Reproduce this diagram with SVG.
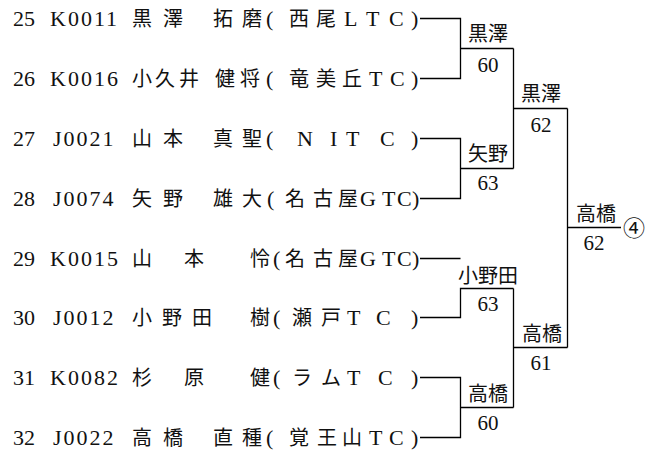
<svg xmlns="http://www.w3.org/2000/svg" width="657" height="452" viewBox="0 0 657 452">
<style>
text { font-family: "Liberation Serif", "Noto Sans CJK JP", serif; font-size: 20px; fill: #111; }
.l { font-size: 22px; }
.code { font-size: 22px; letter-spacing: 2px; }
.lbl { text-anchor: middle; }
.num { font-size: 21px; }
.ln { stroke: #000; stroke-width: 1.3; fill: none; }
</style>
<rect width="657" height="452" fill="#fff"/>

<g id="p25"><text y="26"><tspan x="13" class="l">25</tspan> <tspan x="50" class="code">K0011</tspan> <tspan x="132">黒</tspan> <tspan x="163">澤</tspan> <tspan x="213">拓</tspan> <tspan x="242">磨</tspan><tspan x="266" class="l">(</tspan><tspan x="289">西</tspan> <tspan x="316">尾</tspan><tspan x="344" class="l">L</tspan><tspan x="366" class="l">T</tspan><tspan x="389" class="l">C</tspan><tspan x="411" class="l">)</tspan></text></g>
<g id="p26"><text y="86"><tspan x="13" class="l">26</tspan> <tspan x="50" class="code">K0016</tspan> <tspan x="132">小</tspan><tspan x="155">久</tspan><tspan x="179">井</tspan> <tspan x="215">健</tspan><tspan x="240">将</tspan><tspan x="266" class="l">(</tspan><tspan x="289">竜</tspan><tspan x="316">美</tspan><tspan x="342">丘</tspan><tspan x="369" class="l">T</tspan><tspan x="390" class="l">C</tspan><tspan x="411" class="l">)</tspan></text></g>
<g id="p27"><text y="146"><tspan x="13" class="l">27</tspan> <tspan x="53" class="code">J0021</tspan> <tspan x="132">山</tspan> <tspan x="163">本</tspan> <tspan x="213">真</tspan> <tspan x="242">聖</tspan><tspan x="266" class="l">(</tspan> <tspan x="297" class="l">N</tspan> <tspan x="330" class="l">I</tspan> <tspan x="346" class="l">T</tspan> <tspan x="380" class="l">C</tspan> <tspan x="411" class="l">)</tspan></text></g>
<g id="p28"><text y="206"><tspan x="13" class="l">28</tspan> <tspan x="53" class="code">J0074</tspan> <tspan x="132">矢</tspan> <tspan x="163">野</tspan> <tspan x="213">雄</tspan> <tspan x="242">大</tspan><tspan x="267" class="l">(</tspan><tspan x="285">名</tspan><tspan x="313">古</tspan><tspan x="338">屋</tspan><tspan x="360" class="l">G</tspan><tspan x="382" class="l">T</tspan><tspan x="397" class="l">C</tspan><tspan x="412" class="l">)</tspan></text></g>
<g id="p29"><text y="266"><tspan x="13" class="l">29</tspan> <tspan x="50" class="code">K0015</tspan> <tspan x="132">山</tspan> <tspan x="184">本</tspan> <tspan x="250">怜</tspan><tspan x="273" class="l">(</tspan><tspan x="285">名</tspan><tspan x="313">古</tspan><tspan x="338">屋</tspan><tspan x="360" class="l">G</tspan><tspan x="382" class="l">T</tspan><tspan x="397" class="l">C</tspan><tspan x="412" class="l">)</tspan></text></g>
<g id="p30"><text y="325"><tspan x="13" class="l">30</tspan> <tspan x="53" class="code">J0012</tspan> <tspan x="132">小</tspan> <tspan x="162">野</tspan> <tspan x="192">田</tspan> <tspan x="250">樹</tspan><tspan x="273" class="l">(</tspan> <tspan x="292">瀬</tspan> <tspan x="321">戸</tspan> <tspan x="347" class="l">T</tspan> <tspan x="376" class="l">C</tspan> <tspan x="411" class="l">)</tspan></text></g>
<g id="p31"><text y="385"><tspan x="13" class="l">31</tspan> <tspan x="50" class="code">K0082</tspan> <tspan x="132">杉</tspan> <tspan x="184">原</tspan> <tspan x="250">健</tspan><tspan x="273" class="l">(</tspan> <tspan x="292">ラ</tspan> <tspan x="321">ム</tspan> <tspan x="347" class="l">T</tspan> <tspan x="378" class="l">C</tspan> <tspan x="411" class="l">)</tspan></text></g>
<g id="p32"><text y="445"><tspan x="13" class="l">32</tspan> <tspan x="53" class="code">J0022</tspan> <tspan x="132">高</tspan> <tspan x="163">橋</tspan> <tspan x="213">直</tspan> <tspan x="242">種</tspan><tspan x="266" class="l">(</tspan><tspan x="289">覚</tspan> <tspan x="317">王</tspan> <tspan x="342">山</tspan><tspan x="369" class="l">T</tspan><tspan x="389" class="l">C</tspan><tspan x="411" class="l">)</tspan></text></g>

<g id="connectors" class="ln">
<path d="M420 18.5H460.5V78.5H420M460.5 48.5H513.5"/>
<path d="M420 138.5H460.5V198.5H420M460.5 168.5H513.5"/>
<path d="M420 258.5H460.5"/>
<path d="M420 317.5H460.5V288.5H513.5"/>
<path d="M420 377.5H460.5V437.5H420M460.5 407.5H513.5"/>
<path d="M513.5 48.5V168.5M513.5 108.5H567.5"/>
<path d="M513.5 288.5V407.5M513.5 347.5H567.5"/>
<path d="M567.5 108.5V347.5M567.5 227.5H621"/>
</g>

<g id="r1a"><text class="lbl" x="488" y="41">黒澤</text><text class="lbl num" x="488" y="72">60</text></g>
<g id="r1b"><text class="lbl" x="488" y="161">矢野</text><text class="lbl num" x="488" y="190">63</text></g>
<g id="r1c"><text class="lbl" x="488" y="283">小野田</text><text class="lbl num" x="488" y="311">63</text></g>
<g id="r1d"><text class="lbl" x="488" y="401">高橋</text><text class="lbl num" x="488" y="430">60</text></g>
<g id="r2a"><text class="lbl" x="541" y="101">黒澤</text><text class="lbl num" x="541" y="132">62</text></g>
<g id="r2b"><text class="lbl" x="542" y="341">高橋</text><text class="lbl num" x="541" y="370">61</text></g>
<g id="final"><text class="lbl" x="596" y="221">高橋</text><text class="lbl num" x="594" y="250">62</text><text x="623" y="236" style="font-family:'Noto Sans CJK JP',sans-serif;font-size:22px">④</text></g>
</svg>
